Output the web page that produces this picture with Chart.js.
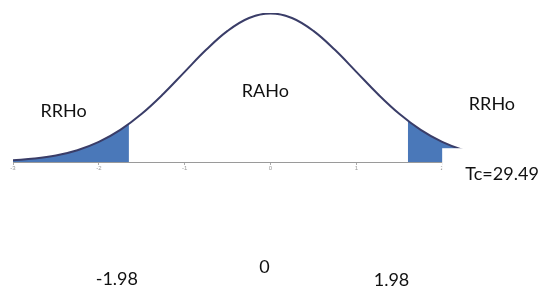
<!DOCTYPE html>
<html>
<head>
<meta charset="utf-8">
<script src="https://cdn.jsdelivr.net/npm/chart.js@4.4.1/dist/chart.umd.min.js"></script>
<style>
  html, body { margin: 0; padding: 0; background: #fff; }
  #wrap { width: 544px; height: 289px; position: relative; }
</style>
</head>
<body>
<div id="wrap"><canvas id="c"></canvas></div>
<script>
// curve (z value -> density)
const zValues = [-3, -2.75, -2.5, -2.25, -2, -1.75, -1.5, -1.25, -1, -0.75, -0.5, -0.25, 0,
                 0.25, 0.5, 0.75, 1, 1.25, 1.5, 1.75, 2, 2.25, 2.5, 2.75, 3];
const density = [0.0044, 0.0091, 0.0175, 0.0317, 0.054, 0.0863, 0.1295, 0.1826, 0.242, 0.3011, 0.3521, 0.3867, 0.3989,
                 0.3867, 0.3521, 0.3011, 0.242, 0.1826, 0.1295, 0.0863, 0.054, 0.0317, 0.0175, 0.0091, 0.0044];

// shaded rejection tails
const leftTailZ = [-3, -2.75, -2.5, -2.25, -2, -1.75, -1.65];
const leftTailY = [0.0044, 0.0091, 0.0175, 0.0317, 0.054, 0.0863, 0.1023];
const rightTailZ = [1.6, 1.75, 2, 2.25, 2.5, 2.75, 3];
const rightTailY = [0.1109, 0.0863, 0.054, 0.0317, 0.0175, 0.0091, 0.0044];

const tickLabels = ["-3", "-2", "-1", "0", "1", "2", "3"];

// text on the picture, placed in axis units
const notes = [
  { text: "RRHo", x: -2.41, y: 0.121, align: "center" },
  { text: "RAHo", x: -0.06, y: 0.174, align: "center" },
  { text: "RRHo", x: 2.58, y: 0.140, align: "center" },
  { text: "Tc=29.49", x: 2.27, y: -0.048, align: "left" },
  { text: "-1.98", x: -1.79, y: -0.330, align: "center" },
  { text: "0", x: -0.07, y: -0.298, align: "center" },
  { text: "1.98", x: 1.41, y: -0.333, align: "center" },
];

const toPoints = (xs, ys) => xs.map((x, i) => ({ x: x, y: ys[i] }));

// white box behind the Tc label, then the notes
const notesPlugin = {
  id: "notes",
  afterDraw(chart) {
    const ctx = chart.ctx;
    const xs = chart.scales.x, ys = chart.scales.y;
    ctx.save();
    ctx.fillStyle = "#fff";
    const bx = xs.getPixelForValue(2);
    const by = ys.getPixelForValue(0.037);
    ctx.fillRect(bx, by, chart.width - bx, 50);
    ctx.fillStyle = "#111";
    ctx.font = "18px Lato";
    ctx.textBaseline = "alphabetic";
    notes.forEach(n => {
      ctx.textAlign = n.align;
      ctx.fillText(n.text, xs.getPixelForValue(n.x), ys.getPixelForValue(n.y));
    });
    ctx.restore();
  }
};

new Chart(document.getElementById("c"), {
  type: "line",
  data: {
    datasets: [
      {
        data: toPoints(zValues, density),
        borderColor: "#3a3d68",
        borderWidth: 2,
        pointRadius: 0,
        tension: 0.4,
        fill: false,
        order: 0,
      },
      {
        data: toPoints(leftTailZ, leftTailY),
        borderWidth: 0,
        backgroundColor: "#4a78b9",
        pointRadius: 0,
        tension: 0.4,
        fill: "origin",
        order: 1,
      },
      {
        data: toPoints(rightTailZ, rightTailY),
        borderWidth: 0,
        backgroundColor: "#4a78b9",
        pointRadius: 0,
        tension: 0.4,
        fill: "origin",
        order: 1,
      },
    ],
  },
  options: {
    responsive: true,
    maintainAspectRatio: false,
    animation: false,
    layout: { padding: { left: 13, right: 16, top: 13, bottom: 0 } },
    plugins: { legend: { display: false }, tooltip: { enabled: false } },
    scales: {
      x: {
        type: "linear",
        min: -3,
        max: 3,
        afterFit: s => { s.height = 127; },
        border: { color: "#9a9a9a", width: 1 },
        grid: { drawOnChartArea: false, tickLength: 3, color: "#aaa" },
        ticks: {
          stepSize: 1,
          padding: 0,
          color: "#999",
          font: { size: 6 },
          callback: (v, i) => tickLabels[i],
        },
      },
      y: {
        display: false,
        min: 0,
        max: 0.4,
      },
    },
  },
  plugins: [notesPlugin],
});
</script>
</body>
</html>
